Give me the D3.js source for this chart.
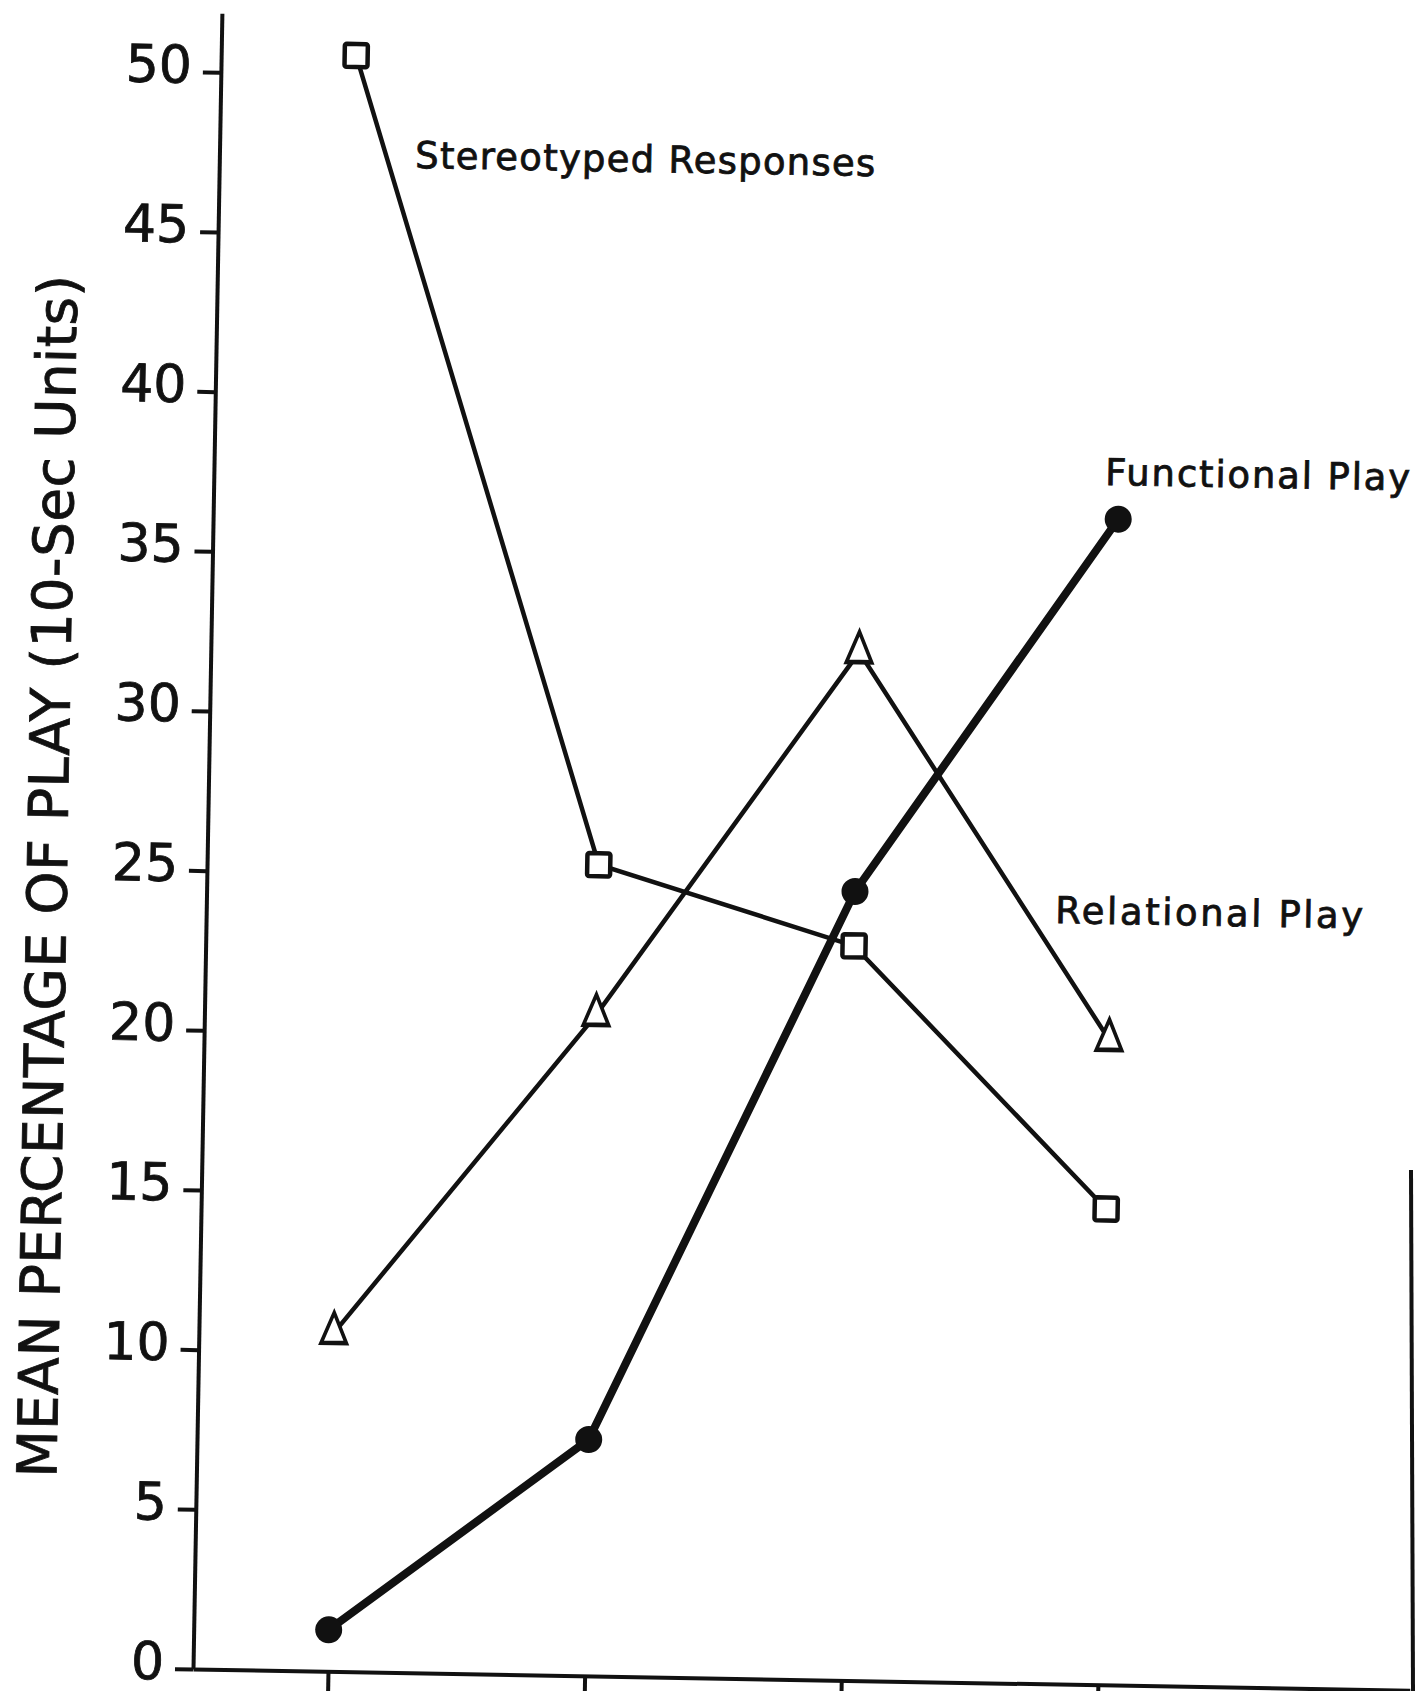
<!DOCTYPE html>
<html>
<head>
<meta charset="utf-8">
<script src="https://cdn.jsdelivr.net/npm/d3@7"></script>
<style>
body{margin:0;background:#fff}
text{font-family:"DejaVu Sans",sans-serif;fill:#111;stroke:#111;stroke-width:0.8px}
</style>
</head>
<body>
<script>
////Data
var sessions = [1,2,3,4] //Sessions on the x axis (unlabelled ticks)
var stereotyped = [50.6,25.4,23.0,14.9] //Open squares
var relational = [10.6,20.7,32.2,20.2] //Open triangles
var functional = [1.3,7.4,24.7,36.5] //Filled circles, heavy line
var yTicks = [0,5,10,15,20,25,30,35,40,45,50]
var yTitle = "MEAN PERCENTAGE OF PLAY (10-Sec Units)"
var labels = ["Stereotyped Responses","Functional Play","Relational Play"]

////The svg
var W = 1421, H = 1691
var svg = d3.select("body").append("svg").attr("width",W).attr("height",H)

//The scanned figure sits slightly rotated, so the whole plot is turned by one degree round the origin
var plot = svg.append("g").attr("transform","translate(193,1669) rotate(1)")

///Scales
var x = d3.scaleLinear().domain([1,4]).range([135,905])
x.domain([x.invert(0),x.invert(1217)]).range([0,1217]) //Stretch so the axis runs to the right edge
var y = d3.scaleLinear().domain([0,51.85]).range([0,-1656])

///Axes
var yAxis = plot.append("g")
    .call(d3.axisLeft(y).tickValues(yTicks).tickSize(18).tickSizeOuter(0).tickPadding(11))
yAxis.selectAll("text").style("font-size","52px").attr("fill","#111").attr("dy","0.2em")
yAxis.selectAll("line, path").attr("stroke","#111").attr("stroke-width",4)

var xAxis = plot.append("g")
    .call(d3.axisBottom(x).tickValues(sessions).tickSize(25).tickSizeOuter(0).tickFormat(""))
xAxis.selectAll("line, path").attr("stroke","#111").attr("stroke-width",4)

//Y axis title
plot.append("text")
    .attr("transform","translate(-140,-790) rotate(-90)")
    .attr("text-anchor","middle")
    .attr("textLength",1203).attr("lengthAdjust","spacing")
    .style("font-size","55px")
    .text(yTitle)

///Lines
var line = d3.line().x(function(d,i){return x(sessions[i])}).y(function(d){return y(d)})

plot.append("path").datum(stereotyped).attr("d",line)
    .attr("fill","none").attr("stroke","#111").attr("stroke-width",4.5)
plot.append("path").datum(relational).attr("d",line)
    .attr("fill","none").attr("stroke","#111").attr("stroke-width",4.5)
plot.append("path").datum(functional).attr("d",line)
    .attr("fill","none").attr("stroke","#111").attr("stroke-width",8)

///Markers
plot.selectAll(".sq").data(stereotyped).enter().append("rect")
    .attr("class","sq")
    .attr("x",function(d,i){return x(sessions[i])-11.5})
    .attr("y",function(d){return y(d)-11.5})
    .attr("width",23).attr("height",23).attr("rx",2)
    .attr("fill","#fff").attr("stroke","#111").attr("stroke-width",4.5)

var tri = d3.symbol().type(d3.symbolTriangle).size(340)
plot.selectAll(".tri").data(relational).enter().append("path")
    .attr("class","tri")
    .attr("d",tri)
    .attr("transform",function(d,i){return "translate("+x(sessions[i])+","+y(d)+") scale(0.9,1.25)"})
    .attr("fill","#fff").attr("stroke","#111").attr("stroke-width",3.8)

plot.selectAll(".dot").data(functional).enter().append("circle")
    .attr("class","dot")
    .attr("cx",function(d,i){return x(sessions[i])})
    .attr("cy",function(d){return y(d)})
    .attr("r",13.5).attr("fill","#111")

////Series labels (placed on the page, tilted with the scan)
var labelPos = [[415,168,460],[1105,485,305],[1055,923,308]]
svg.selectAll(".lab").data(labels).enter().append("text")
    .attr("class","lab")
    .attr("x",function(d,i){return labelPos[i][0]})
    .attr("y",function(d,i){return labelPos[i][1]})
    .attr("transform",function(d,i){return "rotate(1,"+labelPos[i][0]+","+labelPos[i][1]+")"})
    .attr("textLength",function(d,i){return labelPos[i][2]}).attr("lengthAdjust","spacing")
    .style("font-size","37px")
    .text(function(d){return d})

//Right edge of the scanned sheet
svg.append("line").attr("x1",1411).attr("y1",1170).attr("x2",1413).attr("y2",H)
    .attr("stroke","#111").attr("stroke-width",4)
</script>
</body>
</html>
